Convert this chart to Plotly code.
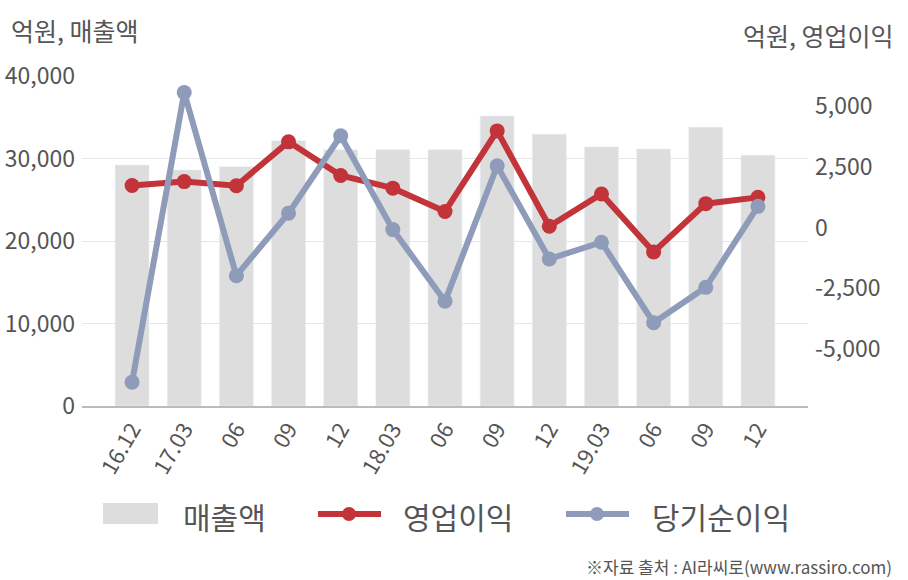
import plotly.graph_objects as go

labels = ["16.12", "17.03", "06", "09", "12", "18.03", "06", "09", "12", "19.03", "06", "09", "12"]
sales = [29200, 28600, 29000, 32150, 31050, 31050, 31050, 35150, 32950, 31400, 31150, 33800, 30400]
op_profit = [1740, 1900, 1730, 3540, 2150, 1630, 670, 3990, 60, 1390, -1000, 990, 1250]
net_income = [-6370, 5570, -1980, 600, 3790, -80, -3030, 2550, -1290, -600, -3920, -2460, 880]
left_ticks = [0, 10000, 20000, 30000, 40000]
right_ticks = [-5000, -2500, 0, 2500, 5000]

FONT = "Noto Sans CJK KR"
RED = "#C2333A"
BLUE = "#8E9CB9"
GRAY = "#DDDDDD"
TXT = "#555555"
x = list(range(len(labels)))

def fmt(v):
    s = f"{abs(v):,}"
    return ("-" + s) if v < 0 else s

fig = go.Figure()
fig.add_trace(go.Bar(x=x, y=sales, name="매출액", marker_color=GRAY, width=0.65, yaxis="y"))
fig.add_trace(go.Scatter(x=x, y=op_profit, name="영업이익", mode="lines+markers",
                         line=dict(color=RED, width=6), marker=dict(size=15, color=RED), yaxis="y2"))
fig.add_trace(go.Scatter(x=x, y=net_income, name="당기순이익", mode="lines+markers",
                         line=dict(color=BLUE, width=6), marker=dict(size=15, color=BLUE), yaxis="y2"))

fig.update_layout(
    width=908, height=580,
    margin=dict(l=82, r=100, t=76, b=174),
    paper_bgcolor="white", plot_bgcolor="white",
    showlegend=False,
    font=dict(family=FONT, color=TXT),
    xaxis=dict(tickmode="array", tickvals=x, ticktext=labels, range=[-0.96, 12.96],
               tickangle=-60, tickfont=dict(size=22, color=TXT), automargin=False,
               showgrid=False, showline=True, linecolor="#BBBBBB", linewidth=1.5,
               ticks="", zeroline=False),
    yaxis=dict(range=[0, 40000], tickmode="array", tickvals=left_ticks, automargin=False,
               ticktext=[fmt(v) for v in left_ticks], tickfont=dict(size=23, color=TXT),
               showgrid=True, gridcolor="#E6E6E6", zeroline=False, ticks="", ticklabelstandoff=6),
    yaxis2=dict(range=[-7354, 6255], overlaying="y", side="right", tickmode="array", automargin=False,
                tickvals=right_ticks, ticktext=[fmt(v) for v in right_ticks],
                tickfont=dict(size=23, color=TXT),
                showgrid=False, zeroline=False, ticks="", ticklabelstandoff=6),
)

W, H = 908, 580
l, r, t, b = 82, 100, 76, 174
pw, ph = W - l - r, H - t - b
def px(xp):
    return (xp - l) / pw
def py(yp):
    return (H - b - yp) / ph

annotations = [
    dict(text="억원, 매출액", x=9, y=30, xanchor="left", font=dict(size=25, color=TXT)),
    dict(text="억원, 영업이익", x=896, y=35, xanchor="right", font=dict(size=25, color=TXT)),
    dict(text="매출액", x=181, y=516, xanchor="left", font=dict(size=30, color=TXT)),
    dict(text="영업이익", x=401, y=516, xanchor="left", font=dict(size=30, color=TXT)),
    dict(text="당기순이익", x=650, y=516, xanchor="left", font=dict(size=30, color=TXT)),
    dict(text="※자료 출처 : AI라씨로(www.rassiro.com)", x=894, y=566, xanchor="right",
         font=dict(size=17, color=TXT)),
]
for a in annotations:
    a["xref"] = "paper"; a["yref"] = "paper"
    a["x"] = px(a["x"]); a["y"] = py(a["y"])
    a["yanchor"] = "middle"
    a["showarrow"] = False
fig.update_layout(annotations=annotations)

shapes = [
    dict(type="rect", xref="paper", yref="paper", x0=px(103), x1=px(158), y0=py(524), y1=py(503),
         fillcolor=GRAY, line=dict(width=0)),
    dict(type="line", xref="paper", yref="paper", x0=px(318), x1=px(381), y0=py(514), y1=py(514),
         line=dict(color=RED, width=6)),
    dict(type="circle", xref="paper", yref="paper", x0=px(342), x1=px(356), y0=py(521), y1=py(507),
         fillcolor=RED, line=dict(width=0)),
    dict(type="line", xref="paper", yref="paper", x0=px(566), x1=px(629), y0=py(514), y1=py(514),
         line=dict(color=BLUE, width=6)),
    dict(type="circle", xref="paper", yref="paper", x0=px(590), x1=px(604), y0=py(521), y1=py(507),
         fillcolor=BLUE, line=dict(width=0)),
]
fig.update_layout(shapes=shapes)

fig.write_html("out.html")
